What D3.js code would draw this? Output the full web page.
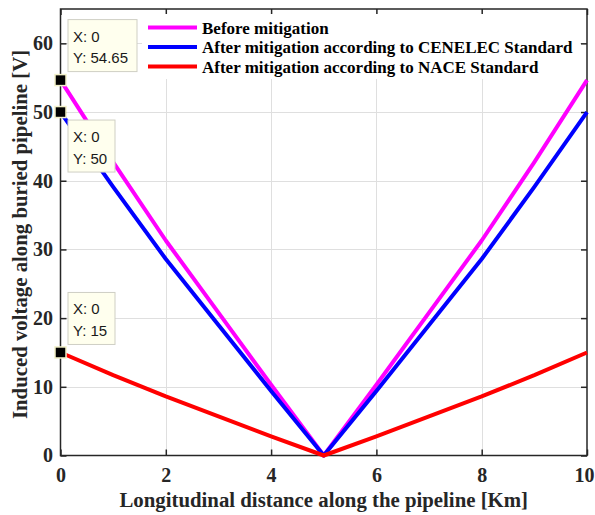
<!DOCTYPE html>
<html>
<head>
<meta charset="utf-8">
<script src="https://cdn.jsdelivr.net/npm/d3@7"></script>
<style>
  html, body { margin: 0; padding: 0; background: #fff; }
  svg { display: block; }
</style>
</head>
<body>
<svg id="chart" width="595" height="515"></svg>
<script>
// Distance along the pipeline (km)
const distanceKm = [0, 1, 2, 3, 4, 5, 6, 7, 8, 9, 10];

// Induced voltage (V) for each scenario
const beforeMitigation = [54.65, 42.7, 31.3, 20.8, 10.3, 0, 10.3, 20.8, 31.3, 42.7, 54.65];
const afterCenelec     = [50, 39.1, 28.6, 19.0, 9.4, 0, 9.4, 19.0, 28.6, 39.1, 50];
const afterNace        = [15, 11.7, 8.6, 5.7, 2.8, 0, 2.8, 5.7, 8.6, 11.7, 15];

const seriesNames = [
  "Before mitigation",
  "After mitigation according to CENELEC Standard",
  "After mitigation according to NACE Standard"
];
const seriesColors = ["#ff00ff", "#0000ff", "#ff0000"];

const xTicks = [0, 2, 4, 6, 8, 10];
const yTicks = [0, 10, 20, 30, 40, 50, 60];

// Data tips pinned at x = 0
const tipX = [0, 0, 0];
const tipY = [54.65, 50, 15];

const xTitle = "Longitudinal distance along the pipeline [Km]";
const yTitle = "Induced voltage along buried pipeline [V]";

const svg = d3.select("#chart");
const plot = { left: 60.5, right: 587, top: 9, bottom: 455.5 };

const x = d3.scaleLinear().domain([0, 10]).range([plot.left, plot.right]);
const y = d3.scaleLinear().domain([0, 65]).range([plot.bottom, plot.top]);

const axisColor = "#262626";
const serif = "'Liberation Serif', 'Times New Roman', serif";
const sans = "'Liberation Sans', Arial, Helvetica, sans-serif";

svg.append("rect").attr("width", 595).attr("height", 515).attr("fill", "#fff");

// Grid
const grid = svg.append("g").attr("stroke", "#dfdfdf").attr("stroke-width", 1);
grid.selectAll("line.gx").data(xTicks.filter(d => d > 0 && d < 10)).join("line")
  .attr("x1", d => Math.round(x(d)) + 0.5).attr("x2", d => Math.round(x(d)) + 0.5)
  .attr("y1", plot.top).attr("y2", plot.bottom);
grid.selectAll("line.gy").data(yTicks.filter(d => d > 0)).join("line")
  .attr("y1", d => Math.round(y(d)) + 0.5).attr("y2", d => Math.round(y(d)) + 0.5)
  .attr("x1", plot.left).attr("x2", plot.right);

// Axes (ticks point inward on all four sides)
const tickLen = 6;
function styleAxis(g) {
  g.select(".domain").remove();
  g.selectAll(".tick line").attr("stroke", axisColor).attr("stroke-width", 1.5);
  g.selectAll(".tick text")
    .attr("fill", axisColor)
    .attr("font-family", serif)
    .attr("font-weight", "bold")
    .attr("font-size", 20);
}

const xAxisG = svg.append("g")
  .attr("transform", `translate(0,${plot.bottom})`)
  .call(d3.axisBottom(x).tickValues(xTicks).tickFormat(d3.format("d"))
        .tickSizeInner(-tickLen).tickSizeOuter(0).tickPadding(12.3))
  .call(styleAxis);
// keep the last label inside the page edge
xAxisG.selectAll(".tick text").filter(d => d === xTicks[xTicks.length - 1])
  .attr("text-anchor", "end").attr("x", 594 - plot.right);

svg.append("g")
  .attr("transform", `translate(0,${plot.top})`)
  .call(d3.axisTop(x).tickValues(xTicks).tickFormat("")
        .tickSizeInner(-tickLen).tickSizeOuter(0))
  .call(styleAxis);
svg.append("g")
  .attr("transform", `translate(${plot.left},0)`)
  .call(d3.axisLeft(y).tickValues(yTicks).tickFormat(d3.format("d"))
        .tickSizeInner(-tickLen).tickSizeOuter(0).tickPadding(7.5))
  .call(styleAxis);
svg.append("g")
  .attr("transform", `translate(${plot.right},0)`)
  .call(d3.axisRight(y).tickValues(yTicks).tickFormat("")
        .tickSizeInner(-tickLen).tickSizeOuter(0))
  .call(styleAxis);

// Legend background (drawn before curves, on top of grid)
const legend = { x0: 142, x1: 580, y0: 14, y1: 79 };
svg.append("rect")
  .attr("x", legend.x0).attr("y", legend.y0)
  .attr("width", legend.x1 - legend.x0).attr("height", legend.y1 - legend.y0)
  .attr("fill", "#fff");

// Box around the plot
svg.append("rect")
  .attr("x", plot.left).attr("y", plot.top)
  .attr("width", plot.right - plot.left).attr("height", plot.bottom - plot.top)
  .attr("fill", "none").attr("stroke", axisColor).attr("stroke-width", 1.5);

// Curves
const allSeries = [beforeMitigation, afterCenelec, afterNace];
const line = d3.line().x((d, i) => x(distanceKm[i])).y(d => y(d));
svg.append("g").selectAll("path").data(allSeries).join("path")
  .attr("d", d => line(d))
  .attr("fill", "none")
  .attr("stroke", (d, i) => seriesColors[i])
  .attr("stroke-width", 4)
  .attr("stroke-linejoin", "round");

// Legend entries
const legRows = [27.5, 47, 66.5];
const lg = svg.append("g");
seriesNames.forEach((name, i) => {
  lg.append("line")
    .attr("x1", 148).attr("x2", 197)
    .attr("y1", legRows[i]).attr("y2", legRows[i])
    .attr("stroke", seriesColors[i]).attr("stroke-width", 4);
  lg.append("text")
    .attr("x", 202).attr("y", legRows[i] + 6)
    .attr("font-family", serif).attr("font-weight", "bold").attr("font-size", 17)
    .attr("fill", "#000")
    .text(name);
});

// Data tips: marker squares and label boxes
const tipOffsets = [
  { dx: 7.5, dy: -60.5, w: 69 },
  { dx: 7.5, dy: 8, w: 47 },
  { dx: 7.5, dy: -60, w: 47 }
];
const tips = svg.append("g");
tipY.forEach((v, i) => {
  const px = x(tipX[i]), py = y(v), o = tipOffsets[i];
  const bx = px + o.dx, by = py + o.dy;
  tips.append("rect")
    .attr("x", bx).attr("y", by).attr("width", o.w).attr("height", 52)
    .attr("fill", "#ffffee").attr("stroke", "#cfcfc4").attr("stroke-width", 1);
  tips.append("text")
    .attr("x", bx + 5).attr("y", by + 22)
    .attr("font-family", sans).attr("font-size", 15).attr("fill", "#1a1a1a")
    .text(`X: ${tipX[i]}`);
  tips.append("text")
    .attr("x", bx + 5).attr("y", by + 43.5)
    .attr("font-family", sans).attr("font-size", 15).attr("fill", "#1a1a1a")
    .text(`Y: ${v}`);
  tips.append("rect")
    .attr("x", px - 5.5).attr("y", py - 5.5).attr("width", 11).attr("height", 11)
    .attr("fill", "#000").attr("stroke", "#f2f0c8").attr("stroke-width", 1.5);
});

// Axis titles
svg.append("text")
  .attr("x", (plot.left + plot.right) / 2).attr("y", 507)
  .attr("text-anchor", "middle")
  .attr("font-family", serif).attr("font-weight", "bold").attr("font-size", 20.8)
  .attr("fill", axisColor)
  .text(xTitle);
svg.append("text")
  .attr("transform", `translate(26.5,234.5) rotate(-90)`)
  .attr("text-anchor", "middle")
  .attr("font-family", serif).attr("font-weight", "bold").attr("font-size", 20.8)
  .attr("fill", axisColor)
  .text(yTitle);
</script>
</body>
</html>
